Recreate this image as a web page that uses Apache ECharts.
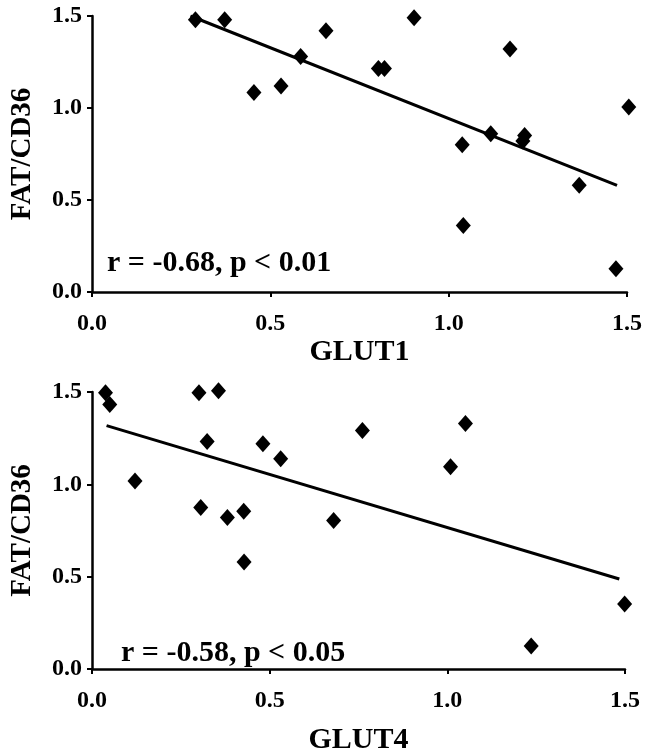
<!DOCTYPE html>
<html>
<head>
<meta charset="utf-8">
<script src="https://cdn.jsdelivr.net/npm/echarts@6/dist/echarts.min.js"></script>
<style>
html,body{margin:0;padding:0;background:#fff;}
#c{width:645px;height:756px;}
</style>
</head>
<body>
<div id="c"></div>
<script>
// Top panel: GLUT1 vs FAT/CD36
const glut1 = [0.29,0.372,0.454,0.53,0.585,0.656,0.803,0.82,0.903,1.038,1.041,1.118,1.172,1.208,1.213,1.366,1.469,1.505];
const fat1  = [1.48,1.48,1.084,1.12,1.28,1.42,1.215,1.215,1.49,0.80,0.362,0.86,1.32,0.82,0.85,0.58,0.127,1.005];
const fit1  = [[0.276,1.50],[1.472,0.58]];
const label1 = 'r = -0.68, p < 0.01';

// Bottom panel: GLUT4 vs FAT/CD36
const glut4 = [0.038,0.050,0.121,0.301,0.356,0.324,0.306,0.381,0.427,0.428,0.481,0.531,0.680,0.761,1.009,1.051,1.236,1.499];
const fat4  = [1.496,1.432,1.018,1.496,1.507,1.232,0.875,0.821,0.854,0.580,1.22,1.138,0.804,1.291,1.095,1.330,0.125,0.352];
const fit4  = [[0.041,1.318],[1.484,0.4875]];
const label4 = 'r = -0.58, p < 0.05';

const xNames = ['GLUT1','GLUT4'];
const yName = 'FAT/CD36';

const FONT = '"Liberation Serif", "Times New Roman", serif';
const chart = echarts.init(document.getElementById('c'), null, {renderer:'canvas'});

function xAx(idx, name, gap){
  return {
    type:'value', gridIndex:idx, min:0, max:1.5, interval:0.5,
    name:name, nameLocation:'middle', nameGap:gap,
    nameTextStyle:{fontFamily:FONT,fontWeight:'bold',fontSize:30,color:'#000'},
    axisLine:{show:true,lineStyle:{color:'#000',width:2.5}},
    axisTick:{show:true,inside:false,length:5,lineStyle:{color:'#000',width:2}},
    axisLabel:{fontFamily:FONT,fontWeight:'bold',fontSize:24,color:'#000',margin:20,
      formatter:v=>v.toFixed(1)},
    splitLine:{show:false}
  };
}
function yAx(idx){
  return {
    type:'value', gridIndex:idx, min:0, max:1.5, interval:0.5,
    name:yName, nameLocation:'middle', nameGap:55, nameRotate:90,
    nameTextStyle:{fontFamily:FONT,fontWeight:'bold',fontSize:29,color:'#000'},
    axisLine:{show:true,lineStyle:{color:'#000',width:2.5}},
    axisTick:{show:true,inside:false,length:5,lineStyle:{color:'#000',width:2}},
    axisLabel:{fontFamily:FONT,fontWeight:'bold',fontSize:24,color:'#000',margin:10,
      formatter:v=>v.toFixed(1)},
    splitLine:{show:false}
  };
}

const pts1 = glut1.map((x,i)=>[x,fat1[i]]);
const pts4 = glut4.map((x,i)=>[x,fat4[i]]);

chart.setOption({
  animation:false,
  backgroundColor:'#fff',
  grid:[
    {left:90, right:17, top:16, height:276},
    {left:92, right:20, top:392, height:282}
  ],
  xAxis:[xAx(0,xNames[0],34), xAx(1,xNames[1],56)],
  yAxis:[yAx(0), yAx(1)],
  series:[
    {type:'line', xAxisIndex:0, yAxisIndex:0, data:fit1, symbol:'none',
      lineStyle:{color:'#000',width:3}, z:2},
    {type:'scatter', xAxisIndex:0, yAxisIndex:0, data:pts1, symbol:'diamond',
      symbolSize:[15,17], itemStyle:{color:'#000',opacity:1}, clip:false, z:3},
    {type:'line', xAxisIndex:1, yAxisIndex:1, data:fit4, symbol:'none',
      lineStyle:{color:'#000',width:3}, z:2},
    {type:'scatter', xAxisIndex:1, yAxisIndex:1, data:pts4, symbol:'diamond',
      symbolSize:[15,17], itemStyle:{color:'#000',opacity:1}, clip:false, z:3}
  ],
  graphic:[
    {type:'text', left:107, top:248, style:{text:label1, font:'bold 30px '+FONT, fill:'#000'}},
    {type:'text', left:121, top:638, style:{text:label4, font:'bold 30px '+FONT, fill:'#000'}}
  ]
});
</script>
</body>
</html>
